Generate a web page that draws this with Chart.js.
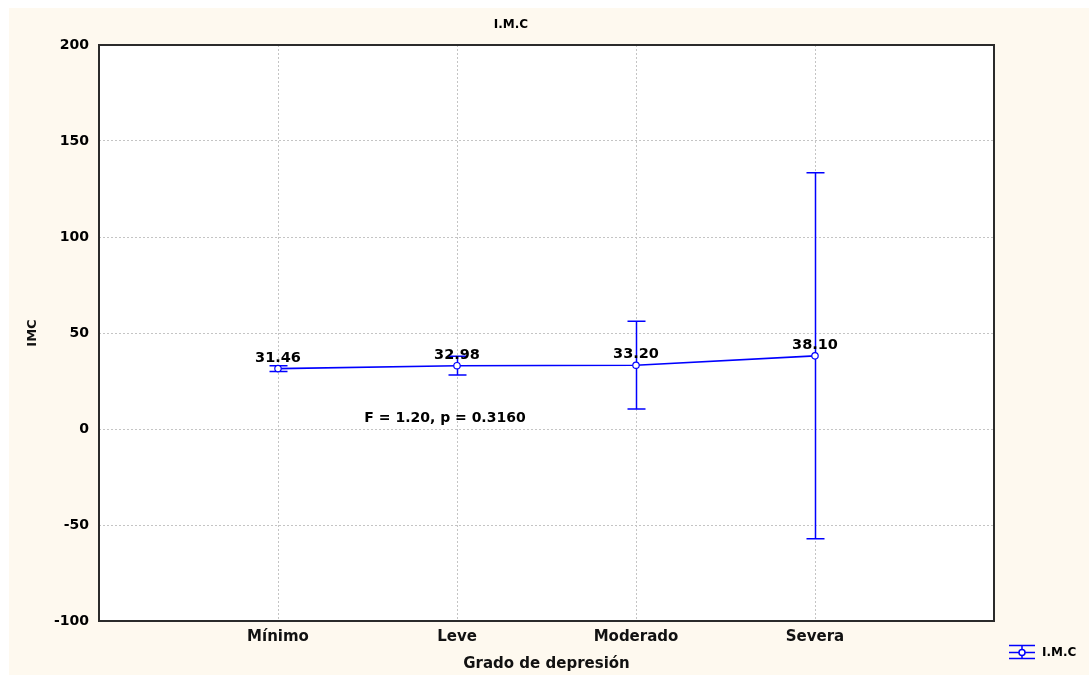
<!DOCTYPE html>
<html><head><meta charset="utf-8">
<script src="https://cdn.jsdelivr.net/npm/chart.js@4.4.0/dist/chart.umd.min.js"></script>
<style>html,body{margin:0;padding:0;background:#fff;}#wrap{width:1091px;height:675px;position:relative;}</style>
</head><body><div id="wrap"><canvas id="c" width="1091" height="675"></canvas></div>
<script>
// ---- data ----
const categories = ['Mínimo', 'Leve', 'Moderado', 'Severa'];
const means = [31.46, 32.98, 33.20, 38.10];
const upperCI = [33.0, 37.9, 56.1, 133.5];
const lowerCI = [29.9, 28.1, 10.4, -57.1];
const yTicks = [-100, -50, 0, 50, 100, 150, 200];
const chartTitle = 'I.M.C';
const seriesName = 'I.M.C';
const xTitle = 'Grado de depresión';
const yTitle = 'IMC';
const statText = 'F = 1.20, p = 0.3160';

const BLUE = '#0000ff';
const FONT = '"DejaVu Sans", Verdana, sans-serif';

const points = categories.map((c, i) => ({x: i + 1, y: means[i]}));

const bgPlugin = {
  id: 'bg',
  beforeDraw(chart) {
    const ctx = chart.ctx, a = chart.chartArea;
    ctx.save();
    ctx.fillStyle = '#fef9ef';
    ctx.fillRect(9, 8, 1080, 667);
    ctx.fillStyle = '#ffffff';
    ctx.fillRect(a.left, a.top, a.right - a.left, a.bottom - a.top);
    ctx.restore();
  }
};

const errPlugin = {
  id: 'err',
  beforeDatasetsDraw(chart) {
    const ctx = chart.ctx, xs = chart.scales.x, ys = chart.scales.y;
    ctx.save();
    ctx.strokeStyle = BLUE;
    ctx.lineWidth = 1.5;
    categories.forEach((c, i) => {
      const x = Math.round(xs.getPixelForValue(i + 1)) + 0.5;
      const yt = ys.getPixelForValue(upperCI[i]);
      const yb = ys.getPixelForValue(lowerCI[i]);
      ctx.beginPath();
      ctx.moveTo(x, yt); ctx.lineTo(x, yb);
      ctx.moveTo(x - 9, yt); ctx.lineTo(x + 9, yt);
      ctx.moveTo(x - 9, yb); ctx.lineTo(x + 9, yb);
      ctx.stroke();
    });
    ctx.restore();
  }
};

const decoPlugin = {
  id: 'deco',
  afterDraw(chart) {
    const ctx = chart.ctx, a = chart.chartArea, xs = chart.scales.x, ys = chart.scales.y;
    ctx.save();
    // frame
    ctx.strokeStyle = '#2b2b2b';
    ctx.lineWidth = 2;
    ctx.strokeRect(a.left, a.top, a.right - a.left, a.bottom - a.top);
    // data labels
    ctx.fillStyle = '#000';
    ctx.font = 'bold 14.5px ' + FONT;
    ctx.textAlign = 'center';
    ctx.textBaseline = 'alphabetic';
    categories.forEach((c, i) => {
      const x = xs.getPixelForValue(i + 1);
      const y = ys.getPixelForValue(means[i]);
      ctx.fillText(means[i].toFixed(2), x, y - 7);
    });
    // stat annotation
    ctx.font = 'bold 14px ' + FONT;
    ctx.textBaseline = 'middle';
    ctx.fillText(statText, 445, 418);
    // title
    ctx.font = 'bold 12px ' + FONT;
    ctx.fillText(chartTitle, 511, 25);
    // legend
    ctx.strokeStyle = BLUE;
    ctx.lineWidth = 1.5;
    ctx.beginPath();
    ctx.moveTo(1009, 645.5); ctx.lineTo(1035, 645.5);
    ctx.moveTo(1009, 652.5); ctx.lineTo(1035, 652.5);
    ctx.moveTo(1009, 658.5); ctx.lineTo(1035, 658.5);
    ctx.moveTo(1022, 645.5); ctx.lineTo(1022, 658.5);
    ctx.stroke();
    ctx.beginPath();
    ctx.fillStyle = '#fff';
    ctx.arc(1022, 652.5, 3, 0, Math.PI * 2);
    ctx.fill(); ctx.stroke();
    ctx.fillStyle = '#000';
    ctx.textAlign = 'left';
    ctx.font = 'bold 12px ' + FONT;
    ctx.fillText(seriesName, 1042, 652.5);
    ctx.restore();
  }
};

new Chart(document.getElementById('c'), {
  type: 'line',
  data: {
    datasets: [{
      label: seriesName,
      data: points,
      borderColor: BLUE,
      borderWidth: 1.6,
      backgroundColor: '#ffffff',
      pointBackgroundColor: '#ffffff',
      pointBorderColor: BLUE,
      pointBorderWidth: 1.2,
      pointRadius: 3.2,
      tension: 0
    }]
  },
  options: {
    responsive: false,
    animation: false,
    devicePixelRatio: 1,
    layout: {padding: {left: 0, top: 45, right: 97, bottom: 0}},
    plugins: {legend: {display: false}, tooltip: {enabled: false}, title: {display: false}},
    scales: {
      x: {
        type: 'linear', min: 0, max: 5,
        afterBuildTicks(scale) { scale.ticks = [0, 1, 2, 3, 4, 5].map(v => ({value: v})); },
        afterFit(scale) { scale.height = 54; },
        ticks: {
          autoSkip: false, maxRotation: 0, padding: 7, color: '#111',
          font: {family: FONT, size: 15, weight: 'bold'},
          callback: v => categories[v - 1] || ''
        },
        grid: {
          drawTicks: false,
          color: ctx => (ctx.tick && ctx.tick.value >= 1 && ctx.tick.value <= 4) ? '#c4c4c4' : 'rgba(0,0,0,0)',
          lineWidth: 1
        },
        border: {display: false, dash: [2, 2]},
        title: {display: true, text: xTitle, color: '#111', font: {family: FONT, size: 15, weight: 'bold'}, padding: {top: 0, bottom: 2}}
      },
      y: {
        type: 'linear', min: -100, max: 200,
        afterBuildTicks(scale) { scale.ticks = yTicks.map(v => ({value: v})); },
        afterFit(scale) { scale.width = 99; },
        ticks: {
          padding: 10, color: '#000',
          font: {family: FONT, size: 14, weight: 'bold'}
        },
        grid: {
          drawTicks: false,
          color: '#c4c4c4',
          lineWidth: 1
        },
        border: {display: false, dash: [2, 2]},
        title: {display: true, text: yTitle, color: '#111', font: {family: FONT, size: 13, weight: 'bold'}, padding: {top: 25, bottom: 0}}
      }
    }
  },
  plugins: [bgPlugin, errPlugin, decoPlugin]
});
</script>
</body></html>
